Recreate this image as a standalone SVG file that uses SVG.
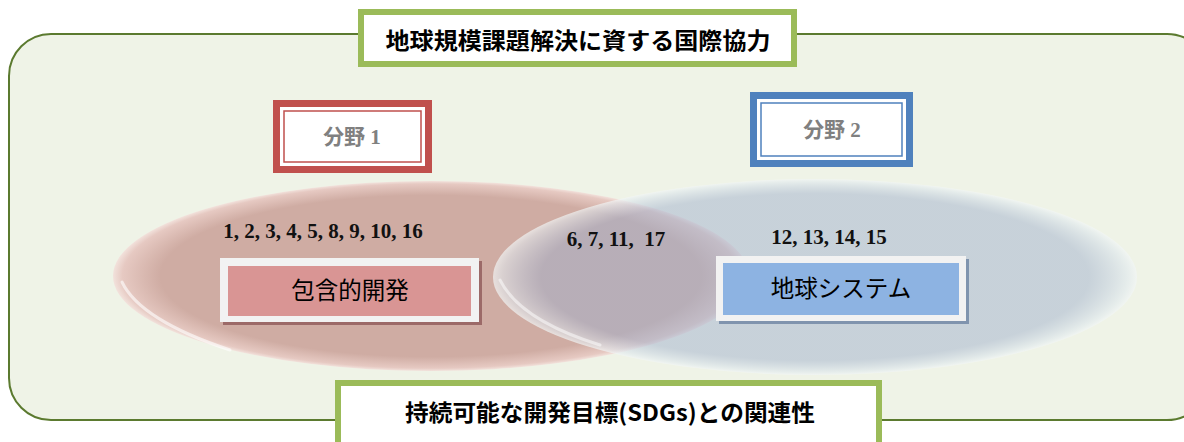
<svg xmlns="http://www.w3.org/2000/svg" width="1184" height="442" viewBox="0 0 1184 442">
<defs>
<style>
.title{font-family:"Noto Sans CJK JP","Noto Sans",sans-serif;font-weight:bold;font-size:23px;fill:#000;text-anchor:middle}
.num{font-family:"Liberation Serif","DejaVu Serif",serif;font-weight:bold;font-size:21px;fill:#111;text-anchor:middle}
.field{font-family:"Liberation Serif","Noto Sans CJK JP",serif;font-weight:bold;font-size:21px;fill:#808080;text-anchor:middle}
.lbl{font-family:"Noto Sans CJK JP",sans-serif;font-size:23.5px;fill:#000;text-anchor:middle}
.gbox{fill:#fff;stroke:#9bbb59;stroke-width:6}
</style>
<radialGradient id="pinkG" cx="0.5" cy="0.5" r="0.5">
<stop offset="0.85" stop-color="#cfaca3"/>
<stop offset="0.97" stop-color="#e6c9c2"/>
<stop offset="1" stop-color="#f2e2dc"/>
</radialGradient>
<radialGradient id="blueG" cx="0.5" cy="0.5" r="0.5">
<stop offset="0.85" stop-color="#a0b0cc" stop-opacity="0.5"/>
<stop offset="0.97" stop-color="#dfe8ee" stop-opacity="0.6"/>
<stop offset="1" stop-color="#f2f6f6" stop-opacity="0.7"/>
</radialGradient>
</defs>
<g id="frame">
<rect x="9" y="34" width="1200" height="386" rx="42" ry="42" fill="#eff3e7" stroke="#5b7a2f" stroke-width="2"/>
</g>
<g id="ellipse-left">
<ellipse cx="431" cy="276" rx="318" ry="95" fill="url(#pinkG)"/>
<path d="M122 282 Q140 320 230 350" fill="none" stroke="#fff" stroke-opacity="0.6" stroke-width="3" stroke-linecap="round"/>
</g>
<g id="ellipse-right">
<ellipse cx="815" cy="277" rx="322" ry="98" fill="url(#blueG)"/>
<path d="M500 280 Q520 320 600 345" fill="none" stroke="#fff" stroke-opacity="0.5" stroke-width="3" stroke-linecap="round"/>
</g>
<g id="title-top">
<rect class="gbox" x="361" y="12" width="433" height="52"/>
<text class="title" x="578" y="49" textLength="385" lengthAdjust="spacingAndGlyphs">地球規模課題解決に資する国際協力</text>
</g>
<g id="title-bottom">
<rect class="gbox" x="338" y="383" width="541" height="70"/>
<text class="title" x="610" y="421" textLength="410" lengthAdjust="spacingAndGlyphs">持続可能な開発目標(SDGs)との関連性</text>
</g>
<g id="field1">
<rect x="273" y="100" width="159" height="73" fill="#c0504d"/>
<rect x="280" y="107" width="145" height="59" fill="#fff"/>
<rect x="284" y="111" width="137" height="51" fill="#fff" stroke="#c0504d" stroke-width="1.5"/>
<text class="field" x="352" y="144">分野 1</text>
</g>
<g id="field2">
<rect x="750" y="92" width="163" height="75" fill="#4f81bd"/>
<rect x="757" y="99" width="149" height="61" fill="#fff"/>
<rect x="761" y="103" width="141" height="53" fill="#fff" stroke="#4f81bd" stroke-width="1.5"/>
<text class="field" x="832" y="137">分野 2</text>
</g>
<g id="nums">
<text class="num" x="323" y="238">1, 2, 3, 4, 5, 8, 9, 10, 16</text>
<text class="num" x="616" y="246" xml:space="preserve">6, 7, 11,  17</text>
<text class="num" x="829" y="244">12, 13, 14, 15</text>
</g>
<g id="box-inclusive">
<rect x="223" y="261" width="259" height="64" fill="#9c6a68"/>
<rect x="220" y="258" width="259" height="64" fill="#f2f2f2"/>
<rect x="228" y="266" width="243" height="50" fill="#d99594"/>
<text class="lbl" x="350" y="299">包含的開発</text>
</g>
<g id="box-earth">
<rect x="719" y="259" width="250" height="65" fill="#8094ae"/>
<rect x="716" y="256" width="250" height="65" fill="#f2f2f2"/>
<rect x="723" y="263" width="236" height="52" fill="#8db3e2"/>
<text class="lbl" x="841" y="297">地球システム</text>
</g>
</svg>
